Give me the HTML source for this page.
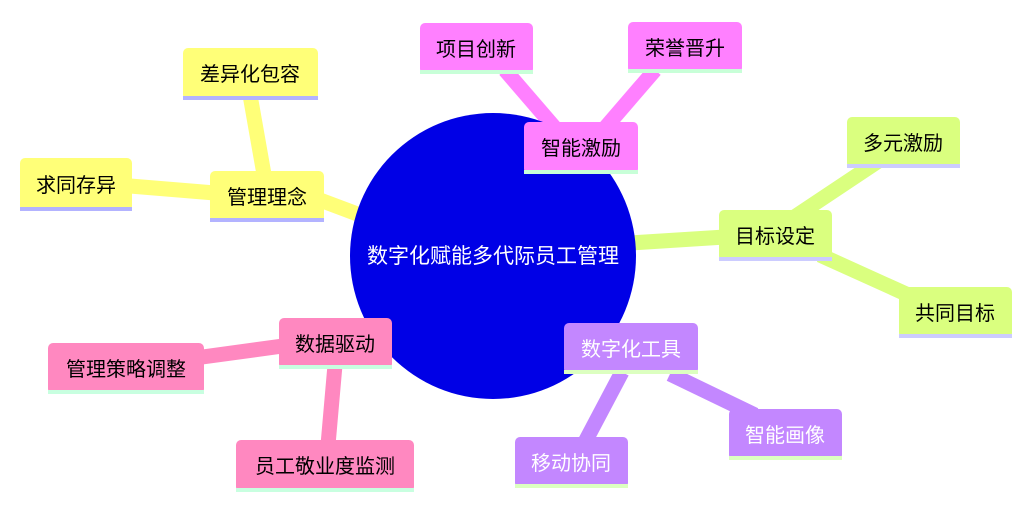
<!DOCTYPE html>
<html><head><meta charset="utf-8"><style>
body{margin:0;background:#fff;}
svg text{font-family:"Liberation Sans","Noto Sans CJK SC",sans-serif;font-size:20px;}
</style></head><body>
<svg width="1030" height="505" xmlns="http://www.w3.org/2000/svg">
<g stroke-linecap="butt" fill="none">
<g stroke="#ffff78" stroke-width="15">
<line x1="250" y1="95" x2="265" y2="180"/>
<line x1="130" y1="186" x2="215" y2="193"/>
<line x1="320" y1="200" x2="360" y2="215"/>
</g>
<g stroke="#ff80ff" stroke-width="15">
<line x1="505" y1="70" x2="555" y2="128"/>
<line x1="655" y1="70" x2="605" y2="128"/>
</g>
<g stroke="#daff7f" stroke-width="15">
<line x1="880" y1="160" x2="790" y2="220"/>
<line x1="820" y1="255" x2="915" y2="298"/>
<line x1="630" y1="243" x2="725" y2="237"/>
</g>
<g stroke="#c387ff" stroke-width="15">
<line x1="622" y1="372" x2="585" y2="442"/>
<line x1="670" y1="374" x2="755" y2="415"/>
</g>
<g stroke="#ff88c0" stroke-width="15">
<line x1="290" y1="345" x2="195" y2="358"/>
<line x1="335" y1="365" x2="328" y2="445"/>
</g>
</g>
<circle cx="493" cy="256" r="143" fill="#0000e6"/>
<text x="493" y="263" fill="#fff" text-anchor="middle" style="font-size:21px">数字化赋能多代际员工管理</text>

<g>
<rect x="183" y="48" width="135" height="52" rx="5" fill="#ffff78"/><rect x="183" y="96" width="135" height="4" fill="#b3b3ff"/>
<text x="250" y="81" text-anchor="middle" fill="#000">差异化包容</text>
<rect x="210" y="171" width="114" height="51" rx="5" fill="#ffff78"/><rect x="210" y="218" width="114" height="4" fill="#b3b3ff"/>
<text x="267" y="204" text-anchor="middle" fill="#000">管理理念</text>
<rect x="20" y="158" width="112" height="53" rx="5" fill="#ffff78"/><rect x="20" y="207" width="112" height="4" fill="#b3b3ff"/>
<text x="76" y="192" text-anchor="middle" fill="#000">求同存异</text>
<rect x="420" y="23" width="113" height="51" rx="5" fill="#ff80ff"/><rect x="420" y="70" width="113" height="4" fill="#c8ffd8"/>
<text x="476" y="56" text-anchor="middle" fill="#000">项目创新</text>
<rect x="628" y="22" width="114" height="51" rx="5" fill="#ff80ff"/><rect x="628" y="69" width="114" height="4" fill="#c8ffd8"/>
<text x="685" y="55" text-anchor="middle" fill="#000">荣誉晋升</text>
<rect x="524" y="122" width="114" height="52" rx="5" fill="#ff80ff"/><rect x="524" y="170" width="114" height="4" fill="#c8ffd8"/>
<text x="581" y="155" text-anchor="middle" fill="#000">智能激励</text>
<rect x="847" y="117" width="113" height="51" rx="5" fill="#daff7f"/><rect x="847" y="164" width="113" height="4" fill="#ccccff"/>
<text x="903" y="150" text-anchor="middle" fill="#000">多元激励</text>
<rect x="719" y="210" width="113" height="51" rx="5" fill="#daff7f"/><rect x="719" y="257" width="113" height="4" fill="#ccccff"/>
<text x="775" y="243" text-anchor="middle" fill="#000">目标设定</text>
<rect x="899" y="287" width="113" height="51" rx="5" fill="#daff7f"/><rect x="899" y="334" width="113" height="4" fill="#ccccff"/>
<text x="955" y="320" text-anchor="middle" fill="#000">共同目标</text>
<rect x="564" y="323" width="134" height="51" rx="5" fill="#c387ff"/><rect x="564" y="370" width="134" height="4" fill="#dcffc0"/>
<text x="631" y="356" text-anchor="middle" fill="#fff">数字化工具</text>
<rect x="729" y="409" width="113" height="51" rx="5" fill="#c387ff"/><rect x="729" y="456" width="113" height="4" fill="#dcffc0"/>
<text x="785" y="442" text-anchor="middle" fill="#fff">智能画像</text>
<rect x="515" y="437" width="113" height="51" rx="5" fill="#c387ff"/><rect x="515" y="484" width="113" height="4" fill="#dcffc0"/>
<text x="571" y="470" text-anchor="middle" fill="#fff">移动协同</text>
<rect x="279" y="318" width="113" height="51" rx="5" fill="#ff88c0"/><rect x="279" y="365" width="113" height="4" fill="#c8ffe0"/>
<text x="335" y="351" text-anchor="middle" fill="#000">数据驱动</text>
<rect x="48" y="343" width="156" height="51" rx="5" fill="#ff88c0"/><rect x="48" y="390" width="156" height="4" fill="#c8ffe0"/>
<text x="126" y="376" text-anchor="middle" fill="#000">管理策略调整</text>
<rect x="236" y="440" width="178" height="52" rx="5" fill="#ff88c0"/><rect x="236" y="488" width="178" height="4" fill="#c8ffe0"/>
<text x="325" y="473" text-anchor="middle" fill="#000">员工敬业度监测</text>
</g>
</svg>
</body></html>
